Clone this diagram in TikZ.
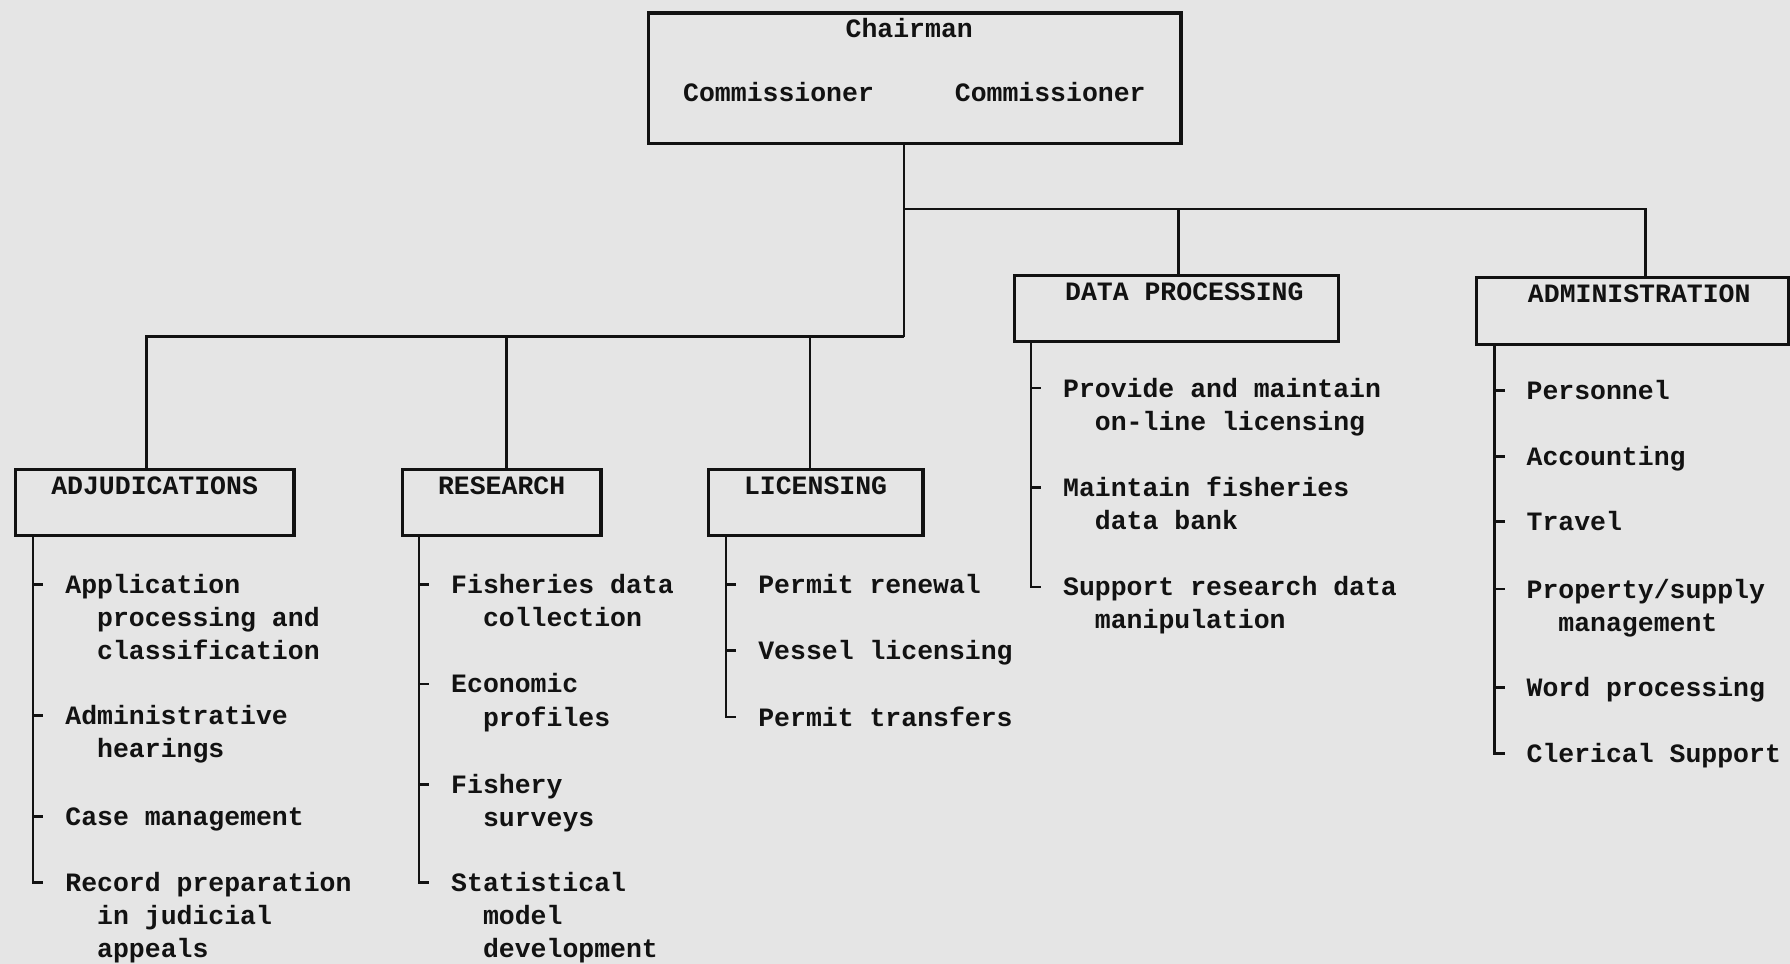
\documentclass[tikz,border=0pt]{standalone}
\usepackage{fontspec}
\setmonofont{Liberation Mono}
\usetikzlibrary{positioning, calc}

\definecolor{paper}{RGB}{229,229,229}
\definecolor{ink}{RGB}{18,18,18}
\newcommand{\ind}{\hphantom{xx}}
\newcommand{\duties}[1]{\begin{tabular}[t]{@{}l@{}}#1\end{tabular}}

\begin{document}
\begin{tikzpicture}[
  x=0.025cm, y=-0.025cm,
  every node/.style = {font=\ttfamily\bfseries\fontsize{16.5}{20.6}\selectfont, text=ink, inner sep=0pt},
  office/.style = {draw=ink, line width=2pt, anchor=north west, text height=0.54cm, text depth=0.91cm},
  duty/.style = {anchor=base west},
  wire/.style = {draw=ink, line width=1.6pt}
]

  % Paper
  \fill[paper] (0,0) rectangle (1568,844);
  \useasboundingbox (0,0) rectangle (1568,844);

  % Head box
  \node[office, minimum width=11.65cm, text height=0.525cm, text depth=2.325cm] (chair) at (567,10) {Chairman\hspace*{0.25cm}};
  \node[anchor=base] (comm1) at (682,89) {Commissioner};
  \node[anchor=base] (comm2) at (920,89) {Commissioner};

  % Divisions
  \node[office, minimum width=6.1cm] (adj) at (12,410) {ADJUDICATIONS};
  \node[office, minimum width=4.35cm] (res) at (351,410) {RESEARCH};
  \node[office, minimum width=4.7cm] (lic) at (619,410) {LICENSING};
  \node[office, minimum width=7.1cm] (dp) at (887,240) {\hspace*{0.35cm}DATA PROCESSING};
  \node[office, minimum width=6.825cm] (admin) at (1292,242) {\hspace*{0.3cm}ADMINISTRATION};

  % Duties
  \node[duty] (a1) at (57,520) {\duties{Application\\\ind processing and\\\ind classification}};
  \node[duty] (a2) at (57,635) {\duties{Administrative\\\ind hearings}};
  \node[duty] (a3) at (57,723) {Case management};
  \node[duty] (a4) at (57,781) {\duties{Record preparation\\\ind in judicial\\\ind appeals}};

  \node[duty] (r1) at (395,520) {\duties{Fisheries data\\\ind collection}};
  \node[duty] (r2) at (395,607) {\duties{Economic\\\ind profiles}};
  \node[duty] (r3) at (395,695) {\duties{Fishery\\\ind surveys}};
  \node[duty] (r4) at (395,781) {\duties{Statistical\\\ind model\\\ind development}};

  \node[duty] (l1) at (664,520) {Permit renewal};
  \node[duty] (l2) at (664,578) {Vessel licensing};
  \node[duty] (l3) at (664,636) {Permit transfers};

  \node[duty] (d1) at (931,348) {\duties{Provide and maintain\\\ind on-line licensing}};
  \node[duty] (d2) at (931,435) {\duties{Maintain fisheries\\\ind data bank}};
  \node[duty] (d3) at (931,522) {\duties{Support research data\\\ind manipulation}};

  \node[duty] (m1) at (1337,350) {Personnel};
  \node[duty] (m2) at (1337,408) {Accounting};
  \node[duty] (m3) at (1337,465) {Travel};
  \node[duty] (m4) at (1337,524) {\duties{Property/supply\\\ind management}};
  \node[duty] (m5) at (1337,610) {Word processing};
  \node[duty] (m6) at (1337,668) {Clerical Support};

  % Chain of command
  \coordinate (upper) at (792,183);
  \coordinate (lower) at (792,295);
  \draw[wire] (chair.south -| upper) -- (lower);
  \draw[wire] (upper) -| ([xshift=0.29cm]admin.north);
  \draw[wire] ([xshift=0.05cm]dp.north) -- ([xshift=0.05cm]dp.north |- upper);
  \draw[wire] ([xshift=-0.175cm]adj.north) |- (lower);
  \draw[wire] ([xshift=0.1cm]res.north) -- ([xshift=0.1cm]res.north |- lower);
  \draw[wire] ([xshift=-0.125cm]lic.north) -- ([xshift=-0.125cm]lic.north |- lower);

  % Spines
  \coordinate (adjspine) at ($(a1.base west)+(-28,0)$);
  \coordinate (resspine) at ($(r1.base west)+(-28,0)$);
  \coordinate (licspine) at ($(l1.base west)+(-28,0)$);
  \coordinate (dpspine) at ($(d1.base west)+(-28,0)$);
  \coordinate (adminspine) at ($(m1.base west)+(-28,0)$);
  \draw[wire] (adj.south -| adjspine) |- ($(a4.base west)+(-19,-8)$);
  \draw[wire] (res.south -| resspine) |- ($(r4.base west)+(-19,-8)$);
  \draw[wire] (lic.south -| licspine) |- ($(l3.base west)+(-19,-8)$);
  \draw[wire] (dp.south -| dpspine) |- ($(d3.base west)+(-19,-8)$);
  \draw[wire] (admin.south -| adminspine) |- ($(m6.base west)+(-19,-8)$);

  % Ticks
  \draw[wire] ($(a1.base west)+(-28,-8)$) -- ++(9,0) ($(a2.base west)+(-28,-8)$) -- ++(9,0)
    ($(a3.base west)+(-28,-8)$) -- ++(9,0);
  \draw[wire] ($(r1.base west)+(-28,-8)$) -- ++(9,0) ($(r2.base west)+(-28,-8)$) -- ++(9,0)
    ($(r3.base west)+(-28,-8)$) -- ++(9,0);
  \draw[wire] ($(l1.base west)+(-28,-8)$) -- ++(9,0) ($(l2.base west)+(-28,-8)$) -- ++(9,0);
  \draw[wire] ($(d1.base west)+(-28,-8)$) -- ++(9,0) ($(d2.base west)+(-28,-8)$) -- ++(9,0);
  \draw[wire] ($(m1.base west)+(-28,-8)$) -- ++(9,0) ($(m2.base west)+(-28,-8)$) -- ++(9,0)
    ($(m3.base west)+(-28,-8)$) -- ++(9,0) ($(m4.base west)+(-28,-8)$) -- ++(9,0)
    ($(m5.base west)+(-28,-8)$) -- ++(9,0);

\end{tikzpicture}
\end{document}
